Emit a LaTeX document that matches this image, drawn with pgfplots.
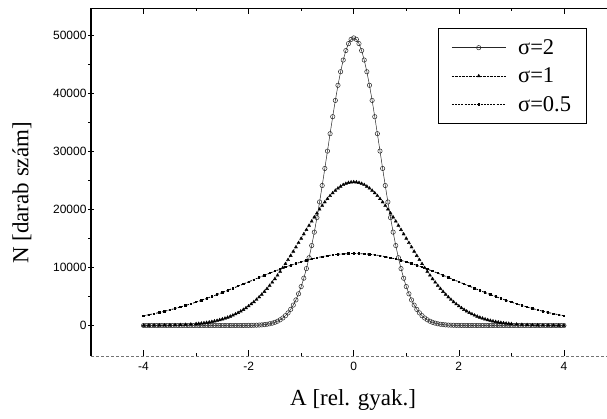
\documentclass[border=0pt]{standalone}
\usepackage{fontspec}
\setmainfont{Liberation Serif}
\newfontfamily\ticksfont{Liberation Sans}
\usepackage{pgfplots}
\pgfplotsset{compat=1.18}
\begin{document}
\begin{tikzpicture}
\begin{axis}[
  at={(91pt,62pt)}, anchor=south west,
  scale only axis, width=516pt, height=347.7pt,
  xmin=-5, xmax=4.82, ymin=-5250, ymax=54600,
  xtick={-4,-2,0,2,4}, minor xtick={-3,-1,1,3},
  ytick={0,10000,20000,30000,40000,50000},
  minor ytick={5000,15000,25000,35000,45000},
  tick align=inside, major tick length=6pt, minor tick length=3pt,
  xtick pos=both, ytick pos=left,
  every y tick/.append style={xshift=-3pt},
  tick style={black, line width=0.6pt},
  scaled y ticks=false,
  /pgf/number format/1000 sep={},
  /pgf/number format/assume math mode=true,
  tick label style={font=\ticksfont\fontsize{12}{14}\selectfont},
  yticklabel style={xshift=-1pt},
  xticklabel style={yshift=-3pt},
  xlabel={A [rel. gyak.]}, ylabel={N [darab szám]},
  label style={font=\fontsize{23}{27}\selectfont},
  xlabel style={at={(axis description cs:0.508,-0.127)}, anchor=center},
  ylabel style={at={(axis description cs:-0.134,0.469)}, anchor=center},
  axis line style={draw=none},
  clip mode=individual,
  legend image code/.code={\draw[mark repeat=2,mark phase=2,#1] plot coordinates {(0pt,0pt) (27pt,0pt) (54pt,0pt)};},
  legend style={at={(axis description cs:0.6725,0.943)}, anchor=north west,
    draw=black, line width=0.7pt, inner xsep=13pt, inner ysep=9pt,
    font=\fontsize{22.5}{24}\selectfont, row sep=8pt,
    /tikz/every odd column/.append style={column sep=10pt}},
  legend cell align=left,
]
\addplot[black!85, line width=0.5pt, mark=o, mark size=2.2pt, mark options={solid, line width=0.5pt, fill=white}]
table[row sep=\\]{
x y\\
-4 0\\ -3.95 0\\ -3.9 0\\ -3.85 0\\ -3.8 0\\ -3.75 0\\ -3.7 0\\ -3.65 0\\ -3.6 0\\ -3.55 0\\
-3.5 0\\ -3.45 0\\ -3.4 0\\ -3.35 0\\ -3.3 0\\ -3.25 0\\ -3.2 0\\ -3.15 0\\ -3.1 0\\ -3.05 0\\
-3 0\\ -2.95 0\\ -2.9 0\\ -2.85 0\\ -2.8 0\\ -2.75 0\\ -2.7 0\\ -2.65 0\\ -2.6 0\\ -2.55 0\\
-2.5 0\\ -2.45 0\\ -2.4 0\\ -2.35 0\\ -2.3 1\\ -2.25 2\\ -2.2 3\\ -2.15 5\\ -2.1 7\\ -2.05 11\\
-2 17\\ -1.95 25\\ -1.9 36\\ -1.85 52\\ -1.8 76\\ -1.75 108\\ -1.7 153\\ -1.65 214\\ -1.6 296\\ -1.55 405\\
-1.5 550\\ -1.45 739\\ -1.4 982\\ -1.35 1293\\ -1.3 1685\\ -1.25 2175\\ -1.2 2778\\ -1.15 3515\\ -1.1 4402\\ -1.05 5457\\
-1 6699\\ -0.95 8141\\ -0.9 9796\\ -0.85 11670\\ -0.8 13763\\ -0.75 16070\\ -0.7 18578\\ -0.65 21263\\ -0.6 24094\\ -0.55 27030\\
-0.5 30023\\ -0.45 33016\\ -0.4 35944\\ -0.35 38744\\ -0.3 41346\\ -0.25 43684\\ -0.2 45694\\ -0.15 47322\\ -0.1 48520\\ -0.05 49253\\
0 49500\\
0.05 49253\\ 0.1 48520\\ 0.15 47322\\ 0.2 45694\\ 0.25 43684\\ 0.3 41346\\ 0.35 38744\\ 0.4 35944\\ 0.45 33016\\ 0.5 30023\\
0.55 27030\\ 0.6 24094\\ 0.65 21263\\ 0.7 18578\\ 0.75 16070\\ 0.8 13763\\ 0.85 11670\\ 0.9 9796\\ 0.95 8141\\ 1 6699\\
1.05 5457\\ 1.1 4402\\ 1.15 3515\\ 1.2 2778\\ 1.25 2175\\ 1.3 1685\\ 1.35 1293\\ 1.4 982\\ 1.45 739\\ 1.5 550\\
1.55 405\\ 1.6 296\\ 1.65 214\\ 1.7 153\\ 1.75 108\\ 1.8 76\\ 1.85 52\\ 1.9 36\\ 1.95 25\\ 2 17\\
2.05 11\\ 2.1 7\\ 2.15 5\\ 2.2 3\\ 2.25 2\\ 2.3 1\\ 2.35 0\\ 2.4 0\\ 2.45 0\\ 2.5 0\\
2.55 0\\ 2.6 0\\ 2.65 0\\ 2.7 0\\ 2.75 0\\ 2.8 0\\ 2.85 0\\ 2.9 0\\ 2.95 0\\ 3 0\\
3.05 0\\ 3.1 0\\ 3.15 0\\ 3.2 0\\ 3.25 0\\ 3.3 0\\ 3.35 0\\ 3.4 0\\ 3.45 0\\ 3.5 0\\
3.55 0\\ 3.6 0\\ 3.65 0\\ 3.7 0\\ 3.75 0\\ 3.8 0\\ 3.85 0\\ 3.9 0\\ 3.95 0\\ 4 0\\
};
\addlegendentry{σ=2}
\addplot[black, line width=0.4pt, densely dotted, mark=triangle*, mark size=1.8pt, mark options={solid}]
table[row sep=\\]{
x y\\
-4 8\\ -3.9 12\\ -3.8 18\\ -3.7 26\\ -3.6 38\\ -3.5 54\\ -3.4 76\\ -3.3 107\\ -3.2 148\\ -3.1 202\\
-3 274\\ -2.95 319\\ -2.9 369\\ -2.85 426\\ -2.8 490\\ -2.75 563\\ -2.7 645\\ -2.65 738\\ -2.6 841\\ -2.55 957\\
-2.5 1085\\ -2.45 1228\\ -2.4 1386\\ -2.35 1561\\ -2.3 1754\\ -2.25 1965\\ -2.2 2196\\ -2.15 2449\\ -2.1 2723\\ -2.05 3021\\
-2 3343\\ -1.95 3690\\ -1.9 4062\\ -1.85 4462\\ -1.8 4888\\ -1.75 5342\\ -1.7 5823\\ -1.65 6332\\ -1.6 6868\\ -1.55 7430\\
-1.5 8019\\ -1.45 8633\\ -1.4 9270\\ -1.35 9930\\ -1.3 10610\\ -1.25 11308\\ -1.2 12023\\ -1.15 12750\\ -1.1 13488\\ -1.05 14233\\
-1 14981\\ -0.95 15730\\ -0.9 16474\\ -0.85 17211\\ -0.8 17936\\ -0.75 18645\\ -0.7 19333\\ -0.65 19996\\ -0.6 20631\\ -0.55 21233\\
-0.5 21798\\ -0.45 22321\\ -0.4 22801\\ -0.35 23233\\ -0.3 23613\\ -0.25 23940\\ -0.2 24211\\ -0.15 24424\\ -0.1 24577\\ -0.05 24669\\
0 24700\\
0.05 24669\\ 0.1 24577\\ 0.15 24424\\ 0.2 24211\\ 0.25 23940\\ 0.3 23613\\ 0.35 23233\\ 0.4 22801\\ 0.45 22321\\ 0.5 21798\\
0.55 21233\\ 0.6 20631\\ 0.65 19996\\ 0.7 19333\\ 0.75 18645\\ 0.8 17936\\ 0.85 17211\\ 0.9 16474\\ 0.95 15730\\ 1 14981\\
1.05 14233\\ 1.1 13488\\ 1.15 12750\\ 1.2 12023\\ 1.25 11308\\ 1.3 10610\\ 1.35 9930\\ 1.4 9270\\ 1.45 8633\\ 1.5 8019\\
1.55 7430\\ 1.6 6868\\ 1.65 6332\\ 1.7 5823\\ 1.75 5342\\ 1.8 4888\\ 1.85 4462\\ 1.9 4062\\ 1.95 3690\\ 2 3343\\
2.05 3021\\ 2.1 2723\\ 2.15 2449\\ 2.2 2196\\ 2.25 1965\\ 2.3 1754\\ 2.35 1561\\ 2.4 1386\\ 2.45 1228\\ 2.5 1085\\
2.55 957\\ 2.6 841\\ 2.65 738\\ 2.7 645\\ 2.75 563\\ 2.8 490\\ 2.85 426\\ 2.9 369\\ 2.95 319\\ 3 274\\
3.1 202\\ 3.2 148\\ 3.3 107\\ 3.4 76\\ 3.5 54\\ 3.6 38\\ 3.7 26\\ 3.8 18\\ 3.9 12\\ 4 8\\
};
\addlegendentry{σ=1}
\addplot[black, line width=0.8pt, dash pattern=on 2pt off 1.2pt, mark=square*, mark size=0.7pt, mark options={solid}]
table[row sep=\\]{
x y\\
-4 1678\\ -3.9 1852\\ -3.8 2040\\ -3.7 2240\\ -3.6 2454\\ -3.5 2682\\ -3.4 2923\\ -3.3 3179\\ -3.2 3448\\ -3.1 3730\\
-3 4026\\ -2.9 4334\\ -2.8 4654\\ -2.7 4985\\ -2.6 5327\\ -2.5 5677\\ -2.4 6036\\ -2.3 6401\\ -2.2 6771\\ -2.1 7145\\
-2 7521\\ -1.9 7897\\ -1.8 8271\\ -1.7 8640\\ -1.6 9004\\ -1.5 9360\\ -1.4 9705\\ -1.3 10039\\ -1.2 10357\\ -1.1 10659\\
-1 10943\\ -0.9 11206\\ -0.8 11447\\ -0.7 11663\\ -0.6 11854\\ -0.5 12018\\ -0.4 12154\\ -0.3 12261\\ -0.2 12338\\ -0.1 12385\\
0 12400\\
0.1 12385\\ 0.2 12338\\ 0.3 12261\\ 0.4 12154\\ 0.5 12018\\ 0.6 11854\\ 0.7 11663\\ 0.8 11447\\ 0.9 11206\\ 1 10943\\
1.1 10659\\ 1.2 10357\\ 1.3 10039\\ 1.4 9705\\ 1.5 9360\\ 1.6 9004\\ 1.7 8640\\ 1.8 8271\\ 1.9 7897\\ 2 7521\\
2.1 7145\\ 2.2 6771\\ 2.3 6401\\ 2.4 6036\\ 2.5 5677\\ 2.6 5327\\ 2.7 4985\\ 2.8 4654\\ 2.9 4334\\ 3 4026\\
3.1 3730\\ 3.2 3448\\ 3.3 3179\\ 3.4 2923\\ 3.5 2682\\ 3.6 2454\\ 3.7 2240\\ 3.8 2040\\ 3.9 1852\\ 4 1678\\
};
\addlegendentry{σ=0.5}
\draw[black, line width=1.1pt] (rel axis cs:0,0) -- (rel axis cs:0,1) -- (rel axis cs:1,1);
\draw[black!55, line width=0.6pt, dash pattern=on 3pt off 2pt] (rel axis cs:0,0) -- (rel axis cs:1,0);
\end{axis}
\pgfresetboundingbox
\path[use as bounding box] (0,0) rectangle (607pt,418pt);
\end{tikzpicture}
\end{document}
